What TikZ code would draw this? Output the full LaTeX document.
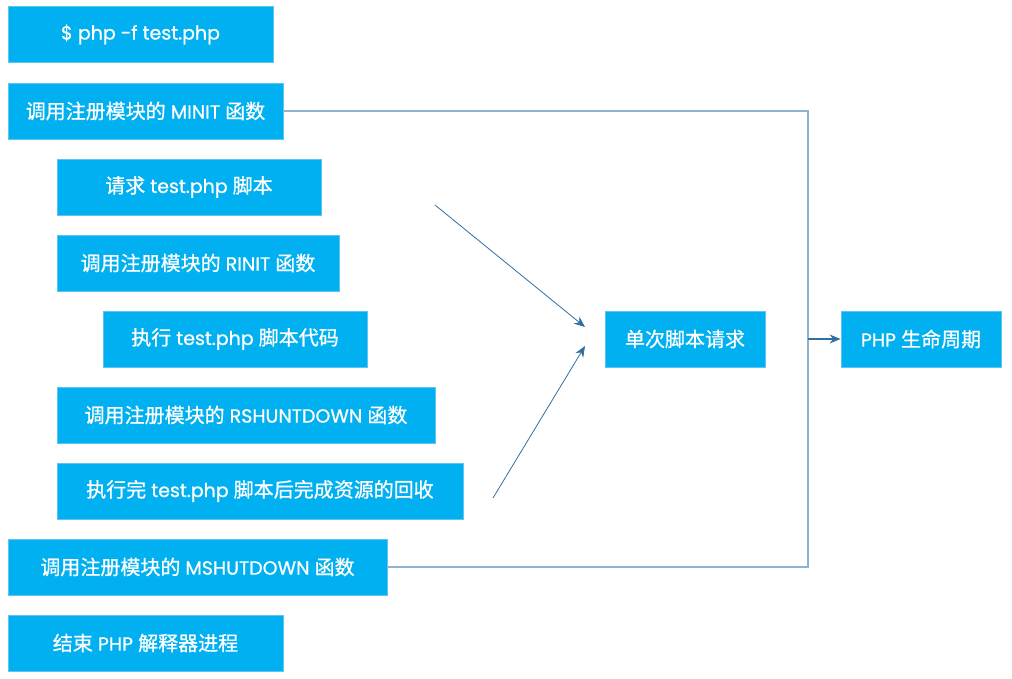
\documentclass[tikz,border=0pt]{standalone}
\usepackage{fontspec}
\setmainfont{Poppins}[Scale=0.95,FakeBold=0.8]
\newfontfamily\cjk{Noto Sans CJK SC}[FakeBold=0.8]
\newcommand{\zh}[1]{{\cjk #1}}
\usetikzlibrary{arrows.meta}
\definecolor{boxfill}{HTML}{00B0F0}
\definecolor{boxline}{HTML}{5CC6F2}
\definecolor{bracket}{HTML}{8DB3CE}
\definecolor{arrowc}{HTML}{2F6FA3}
\tikzset{
  box/.style={rectangle, fill=boxfill, draw=boxline, line width=0.8pt, text=white,
    minimum height=56pt, inner sep=0pt, font=\fontsize{20}{24}\selectfont},
  brk/.style={draw=bracket, line width=1.3pt},
  arr/.style={draw=arrowc, line width=0.8pt, -{Stealth[length=11pt,width=9pt]}},
}
\begin{document}
\begin{tikzpicture}[x=1pt,y=-1pt]
\useasboundingbox (0,0) rectangle (1012,678);
\node[box, minimum width=265pt] (cmd) at (140.5,34.5) {\$ php -f test.php};
\node[box, minimum width=275pt] (minit) at (145.5,111) {\zh{调用注册模块的} MINIT \zh{函数}};
\node[box, minimum width=264pt] (req) at (189,187) {\zh{请求} test.php \zh{脚本}};
\node[box, minimum width=282pt] (rinit) at (198,263) {\zh{调用注册模块的} RINIT \zh{函数}};
\node[box, minimum width=264pt] (exec) at (235,339) {\zh{执行} test.php \zh{脚本代码}};
\node[box, minimum width=378pt] (rshut) at (246,415) {\zh{调用注册模块的} RSHUNTDOWN \zh{函数}};
\node[box, minimum width=406pt] (done) at (260,491) {\zh{执行完} test.php \zh{脚本后完成资源的回收}};
\node[box, minimum width=379pt] (mshut) at (197.5,567) {\zh{调用注册模块的} MSHUTDOWN \zh{函数}};
\node[box, minimum width=275pt] (fin) at (145.5,643) {\zh{结束} PHP \zh{解释器进程}};
\node[box, minimum width=160pt] (single) at (685,339) {\zh{单次脚本请求}};
\node[box, minimum width=160pt] (life) at (921,339) {PHP \zh{生命周期}};
\coordinate (br) at (808,339);
\draw[brk] (minit.east) -| (br) |- (mshut.east);
\draw[arr, line width=1.3pt] (br) -- (life.west);
\coordinate (a1s) at (435,205);
\coordinate (a1e) at (585,327);
\coordinate (a2s) at (493,498);
\coordinate (a2e) at (585,346);
\draw[arr] (a1s) -- (a1e);
\draw[arr] (a2s) -- (a2e);
\end{tikzpicture}
\end{document}
